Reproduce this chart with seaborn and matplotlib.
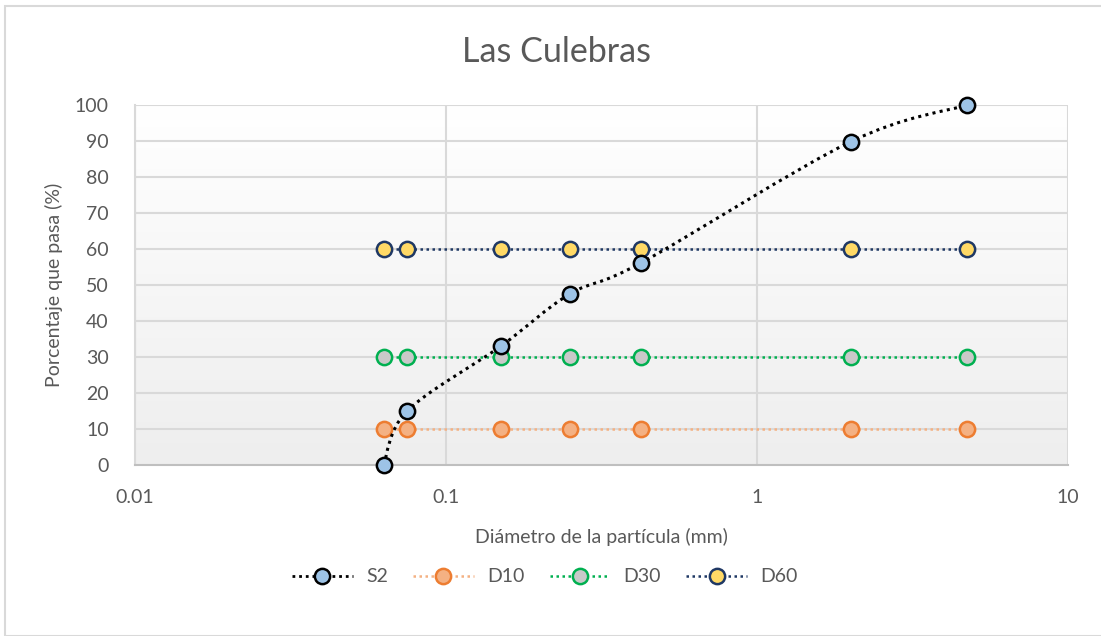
import numpy as np
import matplotlib
matplotlib.use("Agg")
import matplotlib.pyplot as plt
import seaborn as sns
from matplotlib.path import Path
from matplotlib.patches import PathPatch, Rectangle
from matplotlib.lines import Line2D
from matplotlib.ticker import FixedLocator, FixedFormatter, NullLocator

# Sieve openings (mm) and percentage passing
diametro = [0.063, 0.075, 0.15, 0.25, 0.425, 2.0, 4.75]
s2 = [0.0, 15.0, 33.0, 47.5, 56.2, 89.8, 100.0]
d10 = [10] * 7
d30 = [30] * 7
d60 = [60] * 7

x_ticks = [0.01, 0.1, 1, 10]
x_tick_labels = ["0.01", "0.1", "1", "10"]
y_ticks = list(range(0, 101, 10))

titulo = "Las Culebras"
x_label = "Diámetro de la partícula (mm)"
y_label = "Porcentaje que pasa (%)"

sns.set_theme(style="white")
plt.rcParams["font.family"] = ["Lato", "DejaVu Sans"]
TXT = "#595959"
FS = 14

W, H = 1101, 636
fig = plt.figure(figsize=(W / 100, H / 100), dpi=100)

# outer chart border
fig.patches.append(Rectangle((5 / W, 0), 1.2, 1 - 6 / H, transform=fig.transFigure,
                             fill=False, edgecolor="#D9D9D9", linewidth=1.5, zorder=0))

pos = [135 / W, 1 - 465 / H, (1068 - 135) / W, (465 - 105) / H]

# plot-area gradient (white at top to light gray at bottom)
bg = fig.add_axes(pos, zorder=0)
grad = np.linspace(1.0, 0.0, 256).reshape(-1, 1)
top = np.array([1.0, 1.0, 1.0])
bot = np.array([0xEE, 0xEE, 0xEE]) / 255
img = (grad[..., None] * top + (1 - grad[..., None]) * bot)
bg.imshow(img, extent=[0, 1, 0, 1], aspect="auto", origin="upper")
bg.set_axis_off()

ax = fig.add_axes(pos, zorder=1)
ax.set_facecolor("none")
ax.set_xscale("log")
ax.set_xlim(0.01, 10)
ax.set_ylim(0, 100)

ax.xaxis.set_major_locator(FixedLocator(x_ticks))
ax.xaxis.set_major_formatter(FixedFormatter(x_tick_labels))
ax.xaxis.set_minor_locator(NullLocator())
ax.yaxis.set_major_locator(FixedLocator(y_ticks))
ax.grid(True, which="major", color="#D9D9D9", linewidth=1.5, zorder=0)
ax.set_axisbelow(True)
for s in ["top", "right"]:
    ax.spines[s].set_visible(False)
ax.spines["left"].set_color("#D9D9D9")
ax.spines["left"].set_linewidth(1.5)
ax.spines["bottom"].set_color("#BFBFBF")
ax.spines["bottom"].set_linewidth(1.5)
ax.tick_params(axis="both", length=0, labelsize=FS, colors=TXT)
ax.tick_params(axis="y", pad=19)
ax.tick_params(axis="x", pad=17)

dot = (0, (1, 1.4))
MS = 11
series = [
    ("D10", d10, "#F4B183", "#ED7D31", "#F4B183"),
    ("D30", d30, "#00B050", "#00B050", "#C9C9C9"),
    ("D60", d60, "#1F3864", "#1F3864", "#FFD966"),
]
for name, vals, lc, ec, fc in series:
    sns.lineplot(x=diametro, y=vals, ax=ax, color=lc, linestyle=dot, linewidth=1.8,
                 marker="o", markersize=MS, markerfacecolor=fc, markeredgecolor=ec,
                 markeredgewidth=1.8, zorder=3, legend=False)

# smoothed S2 curve: cubic Bezier segments built in (log10 x, y)
u = np.log10(diametro)
v = np.array(s2)
P = np.column_stack([u, v])
verts = [P[0]]
codes = [Path.MOVETO]
n = len(P)
for i in range(n - 1):
    p0 = P[i - 1] if i > 0 else P[i]
    p1, p2 = P[i], P[i + 1]
    p3 = P[i + 2] if i + 2 < n else P[i + 1]
    c1 = p1 + (p2 - p0) / 6
    c2 = p2 - (p3 - p1) / 6
    verts += [c1, c2, p2]
    codes += [Path.CURVE4] * 3
verts = np.array(verts)
verts[:, 0] = 10 ** verts[:, 0]
ax.add_patch(PathPatch(Path(verts, codes), transform=ax.transData, fill=False,
                       edgecolor="black", linewidth=2.2, linestyle=dot, zorder=4))
sns.scatterplot(x=diametro, y=s2, ax=ax, s=MS ** 2, color="#9DC3E6",
                edgecolor="black", linewidth=1.8, zorder=5, legend=False, clip_on=False)
for ln in ax.lines:
    ln.set_clip_on(False)

ax.set_xlabel(x_label, fontsize=FS, color=TXT, labelpad=16)
ax.set_ylabel(y_label, fontsize=FS, color=TXT, labelpad=8)
fig.text(557 / W, 1 - 52 / H, titulo, fontsize=24.5, color=TXT, ha="center", va="center")

handles = [
    Line2D([], [], color="black", linestyle=dot, linewidth=2, marker="o", markersize=MS,
           markerfacecolor="#9DC3E6", markeredgecolor="black", markeredgewidth=1.8),
]
for name, vals, lc, ec, fc in series:
    handles.append(Line2D([], [], color=lc, linestyle=dot, linewidth=1.8, marker="o",
                          markersize=MS, markerfacecolor=fc, markeredgecolor=ec,
                          markeredgewidth=1.8))
leg = fig.legend(handles, ["S2", "D10", "D30", "D60"], loc="center", ncol=4,
                 bbox_to_anchor=(545 / W, 1 - 577 / H), frameon=False,
                 fontsize=FS, handlelength=3.1, columnspacing=1.3, handletextpad=0.7)
for t in leg.get_texts():
    t.set_color(TXT)

fig.savefig("out.png", dpi=100)
